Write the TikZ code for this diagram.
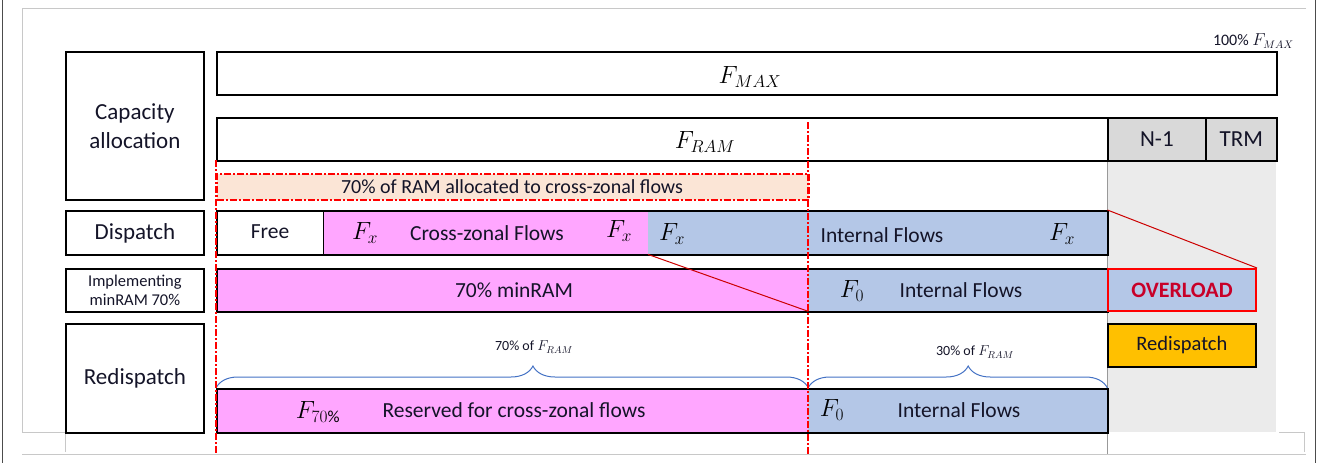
\documentclass[tikz,border=0pt]{standalone}
\usepackage{fontspec}
\setmainfont{Carlito}
\usetikzlibrary{decorations.pathreplacing}
\definecolor{pinkf}{RGB}{255,166,255}
\definecolor{bluef}{RGB}{180,199,231}
\definecolor{peachf}{RGB}{251,229,214}
\definecolor{grayf}{RGB}{217,217,217}
\definecolor{lgrayf}{RGB}{235,235,235}
\definecolor{orangef}{RGB}{255,192,0}
\definecolor{braceblue}{RGB}{68,114,196}
\definecolor{frameg}{RGB}{200,200,200}
\definecolor{ovred}{RGB}{200,0,40}
\definecolor{textc}{RGB}{20,20,40}
\begin{document}
\begin{tikzpicture}[x=1pt,y=-1pt,
  bx/.style={draw=black, line width=1.8pt, inner sep=0pt, anchor=north west},
  fl/.style={inner sep=0pt, anchor=north west},
  txt/.style={font=\fontsize{21.5}{25}\selectfont, text=textc, inner sep=0pt},
  big/.style={font=\fontsize{23}{29}\selectfont, text=textc, inner sep=0pt, align=center},
  sml/.style={font=\fontsize{16.5}{19}\selectfont, text=textc, inner sep=0pt, align=center},
  tiny/.style={font=\fontsize{14}{16}\selectfont, text=textc, inner sep=0pt},
  mth/.style={font=\fontsize{24}{28}\selectfont, text=black, inner sep=0pt},
  reddash/.style={draw=red, line width=1.5pt, dash pattern=on 7pt off 2pt on 2pt off 2pt},
  redline/.style={draw=red!80!black, line width=1pt},
  brc/.style={draw=braceblue, line width=1pt, decorate, decoration={brace, amplitude=22pt, aspect=0.535}},
  frm/.style={draw=frameg, line width=1pt}
]
\useasboundingbox (0,0) rectangle (1331,463);
% outer frame
\draw[black!70, line width=1pt] (2,0) -- (2,463);
\draw[black!70, line width=1pt] (1315,0) -- (1315,463);
\coordinate (f1) at (22,8); \coordinate (f2) at (1306,8);
\coordinate (f3) at (22,432); \coordinate (f4) at (65,432);
\coordinate (f5) at (65,452); \coordinate (f6) at (22,454); \coordinate (f7) at (1306,454);
\coordinate (f8) at (1279,432); \coordinate (f9) at (1304,432); \coordinate (f10) at (1304,452);
\draw[frm] (f2) -- (f1) -- (f3) -- (f4) -- (f5);
\draw[frm] (f6) -- (f7);
\draw[frm] (f8) -- (f9) -- (f10);

% gray region under N-1/TRM
\node[fl, fill=lgrayf, minimum width=169pt, minimum height=272pt] (greg) at (1107,160) {};
\coordinate (gl1) at (1107,160); \coordinate (gl2) at (1107,454);
\draw[black!40, line width=1pt] (gl1) -- (gl2);

% left label boxes
\node[bx, minimum width=138pt, minimum height=148pt] (lcap) at (65,51) {};
\node[big] at (lcap.center) {Capacity\\allocation};
\node[bx, minimum width=138pt, minimum height=44pt] (ldisp) at (65,210) {};
\node[big] at (ldisp.center) {Dispatch};
\node[bx, minimum width=138pt, minimum height=43pt] (limpl) at (65,268) {};
\node[sml] at (limpl.center) {Implementing\\minRAM 70\%};
\node[bx, minimum width=138pt, minimum height=109pt] (lred) at (65,323) {};
\node[big] at (lred.center) {Redispatch};

% capacity bars
\node[bx, minimum width=1060pt, minimum height=43pt] (fmax) at (216,51) {};
\node[mth] at (750,77) {$F_{MAX}$};
\node[tiny, anchor=east, font=\fontsize{16}{18}\selectfont] (hund) at (1294,41) {100\% $F_{MAX}$};
\node[bx, minimum width=891pt, minimum height=43pt] (fram) at (216,117) {};
\node[mth] at (705,142) {$F_{RAM}$};
\node[bx, fill=grayf, minimum width=98pt, minimum height=43pt] (n1) at (1107,117) {};
\node[txt, font=\fontsize{23}{27}\selectfont] at (n1.center) {N-1};
\node[bx, fill=grayf, minimum width=71pt, minimum height=43pt] (trm) at (1205,117) {};
\node[txt, font=\fontsize{23}{27}\selectfont] at (trm.center) {TRM};

% 70% RAM allocated
\node[fl, fill=peachf, reddash, minimum width=592pt, minimum height=26pt] (ramalloc) at (216,173) {};
\node[txt, font=\fontsize{20}{23}\selectfont] at (512,187) {70\% of RAM allocated to cross-zonal flows};

% dispatch row
\node[fl, fill=white, minimum width=107pt, minimum height=44pt] (dfree) at (216,210) {};
\node[fl, fill=pinkf, minimum width=325pt, minimum height=44pt] (dpink) at (323,210) {};
\node[fl, fill=bluef, minimum width=459pt, minimum height=44pt] (dblue) at (648,210) {};
\node[bx, minimum width=891pt, minimum height=44pt] (drow) at (216,210) {};
\draw[black, line width=1.5pt] (dfree.north east) -- (dfree.south east);
\node[txt] at (270,232) {Free};
\node[mth] at (365,233) {$F_x$};
\node[txt] at (487,233) {Cross-zonal Flows};
\node[mth] at (619,231) {$F_x$};
\node[mth] at (672,234) {$F_x$};
\node[txt] at (882,235) {Internal Flows};
\node[mth] at (1062,234) {$F_x$};

% implementing row
\node[fl, fill=pinkf, minimum width=592pt, minimum height=43pt] (ipink) at (216,268) {};
\node[fl, fill=bluef, minimum width=299pt, minimum height=43pt] (iblue) at (808,268) {};
\node[bx, minimum width=891pt, minimum height=43pt] (irow) at (216,268) {};
\node[txt] at (514,290) {70\% minRAM};
\node[mth] at (852,291) {$F_0$};
\node[txt] at (961,290) {Internal Flows};
\node[fl, fill=bluef, draw=red, line width=2pt, minimum width=148pt, minimum height=42pt] (overload) at (1107,268) {};
\node[txt, text=ovred, font=\fontsize{22}{26}\selectfont\bfseries] at (overload.center) {OVERLOAD};
\node[bx, fill=orangef, minimum width=148pt, minimum height=43pt] (redisp) at (1107,323) {};
\node[txt, font=\fontsize{20.5}{24}\selectfont] at (redisp.center) {Redispatch};

% redispatch row
\node[fl, fill=pinkf, minimum width=592pt, minimum height=44pt] (rpink) at (216,388) {};
\node[fl, fill=bluef, minimum width=299pt, minimum height=44pt] (rblue) at (808,388) {};
\node[bx, minimum width=891pt, minimum height=44pt] (rrow) at (216,388) {};
\node[mth] at (318,412) {$F_{70\%}$};
\node[txt] at (514,410) {Reserved for cross-zonal flows};
\node[mth] at (832,410) {$F_0$};
\node[txt] at (959,410) {Internal Flows};

% braces
\draw[brc] (rpink.north west) -- (rpink.north east);
\draw[brc] (rblue.north west) -- (rblue.north east);
\node[tiny] at (534,347) {70\% of $F_{RAM}$};
\node[tiny] at (975,352) {30\% of $F_{RAM}$};

% red connectors
\draw[redline] (dblue.south west) -- (ipink.south east);
\draw[redline] (dblue.north east) -- (overload.north east);

% red dash-dot verticals
\coordinate (v1t) at (216,160); \coordinate (v1b) at (216,454);
\coordinate (v2t) at (808,122); \coordinate (v2b) at (808,454);
\draw[reddash] (v1t) -- (v1b);
\draw[reddash] (v2t) -- (v2b);
\end{tikzpicture}
\end{document}
